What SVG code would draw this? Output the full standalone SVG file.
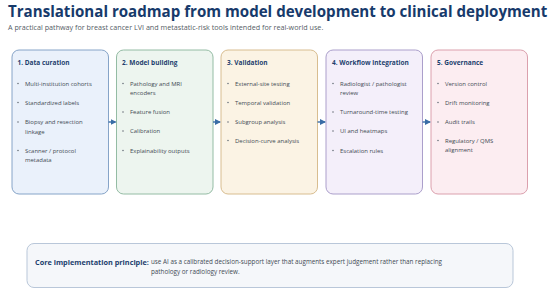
<svg xmlns="http://www.w3.org/2000/svg" width="550" height="293" viewBox="0 0 550 293">
<style>
.t{font-family:"Open Sans","Noto Sans",sans-serif;}
.title{font-size:15.1px;font-weight:700;fill:#173a6b;}
.sub{font-size:7.2px;fill:#555d66;}
.h{font-size:6.5px;font-weight:700;fill:#1d3f6e;}
.b{font-size:5.95px;fill:#434b54;}
.dot{fill:#6b737c;}
.core{font-size:7.3px;font-weight:700;fill:#1d3f6e;}
.cb{font-size:6.3px;fill:#434b54;}
</style>
<defs>
<marker id="ah" markerWidth="6" markerHeight="6" refX="5" refY="3" orient="auto" markerUnits="userSpaceOnUse">
<path d="M0,0 L6,3 L0,6 Z" fill="#3a6da6"/>
</marker>
</defs>
<text class="t title" x="8" y="17">Translational roadmap from model development to clinical deployment</text>
<text class="t sub" x="8" y="29.5">A practical pathway for breast cancer LVI and metastatic-risk tools intended for real-world use.</text>

<g id="step1">
<rect x="12" y="50" width="96.5" height="144" rx="7" fill="#eaf1fb" stroke="#86a4c8" stroke-width="1"/>
<text class="t h" x="17.5" y="64.5">1. Data curation</text>
<circle class="dot" cx="18" cy="83.5" r="0.8"/><text class="t b" x="25" y="85.5">Multi-institution cohorts</text>
<circle class="dot" cx="18" cy="102.5" r="0.8"/><text class="t b" x="25" y="104.5">Standardized labels</text>
<circle class="dot" cx="18" cy="122" r="0.8"/><text class="t b" x="25" y="124">Biopsy and resection</text><text class="t b" x="25" y="133.5">linkage</text>
<circle class="dot" cx="18" cy="150.5" r="0.8"/><text class="t b" x="25" y="152.5">Scanner / protocol</text><text class="t b" x="25" y="162">metadata</text>
</g>

<g id="step2">
<rect x="116.5" y="50" width="96.5" height="144" rx="7" fill="#edf5ef" stroke="#94bca4" stroke-width="1"/>
<text class="t h" x="122" y="64.5">2. Model building</text>
<circle class="dot" cx="123" cy="83.5" r="0.8"/><text class="t b" x="130" y="85.5">Pathology and MRI</text><text class="t b" x="130" y="95">encoders</text>
<circle class="dot" cx="123" cy="112" r="0.8"/><text class="t b" x="130" y="114">Feature fusion</text>
<circle class="dot" cx="123" cy="131" r="0.8"/><text class="t b" x="130" y="133">Calibration</text>
<circle class="dot" cx="123" cy="150.5" r="0.8"/><text class="t b" x="130" y="152.5">Explainability outputs</text>
</g>

<g id="step3">
<rect x="221" y="50" width="96.5" height="144" rx="7" fill="#fbf3e4" stroke="#d8bd90" stroke-width="1"/>
<text class="t h" x="227" y="64.5">3. Validation</text>
<circle class="dot" cx="228" cy="83.5" r="0.8"/><text class="t b" x="235" y="85.5">External-site testing</text>
<circle class="dot" cx="228" cy="102.5" r="0.8"/><text class="t b" x="235" y="104.5">Temporal validation</text>
<circle class="dot" cx="228" cy="122" r="0.8"/><text class="t b" x="235" y="124">Subgroup analysis</text>
<circle class="dot" cx="228" cy="140.5" r="0.8"/><text class="t b" x="235" y="142.5">Decision-curve analysis</text>
</g>

<g id="step4">
<rect x="326" y="50" width="96.5" height="144" rx="7" fill="#f4effa" stroke="#ab9fcb" stroke-width="1"/>
<text class="t h" x="332" y="64.5">4. Workflow integration</text>
<circle class="dot" cx="333" cy="83.5" r="0.8"/><text class="t b" x="340" y="85.5">Radiologist / pathologist</text><text class="t b" x="340" y="95">review</text>
<circle class="dot" cx="333" cy="112" r="0.8"/><text class="t b" x="340" y="114">Turnaround-time testing</text>
<circle class="dot" cx="333" cy="131" r="0.8"/><text class="t b" x="340" y="133">UI and heatmaps</text>
<circle class="dot" cx="333" cy="150.5" r="0.8"/><text class="t b" x="340" y="152.5">Escalation rules</text>
</g>

<g id="step5">
<rect x="431" y="50" width="96.5" height="144" rx="7" fill="#fcedf1" stroke="#dba0ad" stroke-width="1"/>
<text class="t h" x="437" y="64.5">5. Governance</text>
<circle class="dot" cx="438" cy="83.5" r="0.8"/><text class="t b" x="445" y="85.5">Version control</text>
<circle class="dot" cx="438" cy="102.5" r="0.8"/><text class="t b" x="445" y="104.5">Drift monitoring</text>
<circle class="dot" cx="438" cy="122" r="0.8"/><text class="t b" x="445" y="124">Audit trails</text>
<circle class="dot" cx="438" cy="140.5" r="0.8"/><text class="t b" x="445" y="142.5">Regulatory / QMS</text><text class="t b" x="445" y="152">alignment</text>
</g>

<g id="connectors" stroke="#3a6da6" stroke-width="1.4" fill="none" marker-end="url(#ah)">
<line x1="108.5" y1="122" x2="115.5" y2="122"/>
<line x1="213" y1="122" x2="220" y2="122"/>
<line x1="317.5" y1="122" x2="325" y2="122"/>
<line x1="422.5" y1="122" x2="430" y2="122"/>
</g>

<g id="principle">
<rect x="27" y="243.5" width="486" height="44" rx="7" fill="#f5f7fa" stroke="#b9c7d9" stroke-width="1"/>
<text class="t core" x="35" y="264.5">Core implementation principle:</text>
<text class="t cb" x="151" y="264">use AI as a calibrated decision-support layer that augments expert judgement rather than replacing</text>
<text class="t cb" x="151" y="273.5">pathology or radiology review.</text>
</g>
</svg>
